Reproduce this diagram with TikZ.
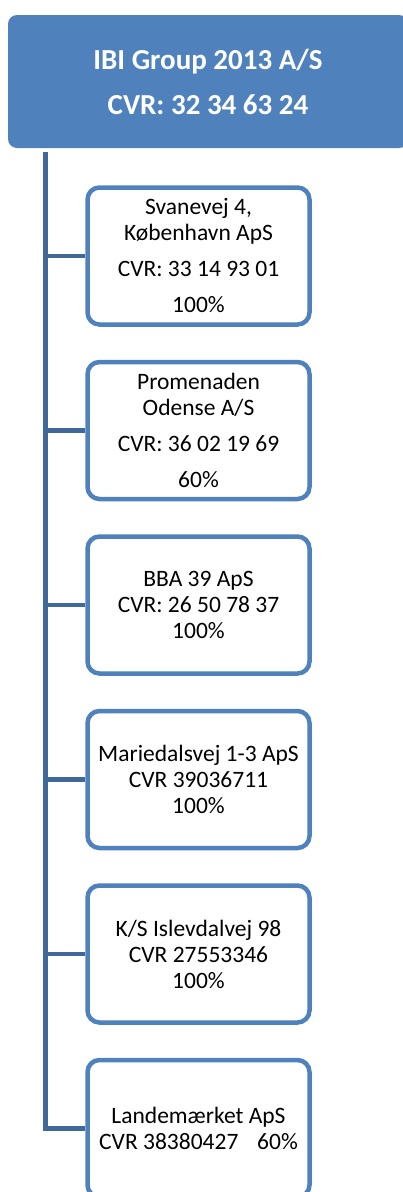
\documentclass[tikz,border=0pt]{standalone}
\usepackage{fontspec}
\setmainfont{Carlito}
\usepackage{tikz}
\usetikzlibrary{positioning}
\definecolor{boxblue}{RGB}{79,129,189}
\definecolor{lineblue}{RGB}{64,104,154}

\begin{document}
\begin{tikzpicture}[x=1pt, y=-1pt,
  owner/.style={rectangle, fill=boxblue, rounded corners=9pt, minimum width=400pt, minimum height=133pt, align=center, text=white, font=\fontsize{29}{45}\selectfont\bfseries},
  company/.style={rectangle, draw=boxblue, fill=white, line width=4.5pt, rounded corners=12pt, minimum width=222pt, minimum height=137pt, inner sep=0pt, align=center, font=\fontsize{23.5}{26}\selectfont}]
\useasboundingbox (0,0) rectangle (403,1192);
\clip (0,0) rectangle (403,1192);
%% Nodes definition
\node[owner] (group) at (208,81.5) {IBI Group 2013 A/S\\CVR: 32 34 63 24};
\node[company] (svanevej) at (198.5,256) {Svanevej 4,\\København ApS\\[10pt]CVR: 33 14 93 01\\[10pt]100\%};
\node[company, below = 33pt of svanevej] (promenaden) {Promenaden\\Odense A/S\\[10pt]CVR: 36 02 19 69\\[10pt]60\%};
\node[company, below = 33pt of promenaden] (bba) {BBA 39 ApS\\CVR: 26 50 78 37\\100\%};
\node[company, below = 33pt of bba] (mariedalsvej) {Mariedalsvej 1-3 ApS\\CVR 39036711\\100\%};
\node[company, below = 33pt of mariedalsvej] (islevdalvej) {K/S Islevdalvej 98\\CVR 27553346\\100\%};
\node[company, below = 33pt of islevdalvej] (landemaerket) {Landemærket ApS\\CVR 38380427\hspace{0.8em}60\%};
\coordinate (trunk) at (45.5,152);

%% Edges definition
\draw[lineblue, line width=4.5pt] (trunk) |- (landemaerket.west);
\path[every edge/.append style={lineblue, line width=4.5pt}]
    (trunk |- svanevej.west) edge (svanevej.west)
    (trunk |- promenaden.west) edge (promenaden.west)
    (trunk |- bba.west) edge (bba.west)
    (trunk |- mariedalsvej.west) edge (mariedalsvej.west)
    (trunk |- islevdalvej.west) edge (islevdalvej.west)
    ;
\end{tikzpicture}
\end{document}
